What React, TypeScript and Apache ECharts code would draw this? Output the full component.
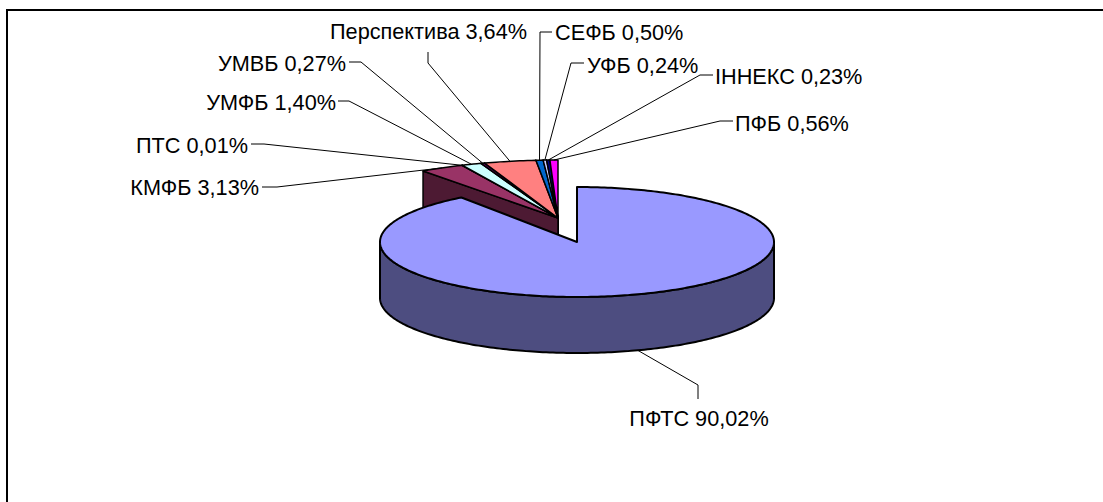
import React, { useEffect, useRef } from 'react';
import * as echarts from 'echarts';

const exchanges = ['ПФТС', 'КМФБ', 'ПТС', 'УМФБ', 'УМВБ', 'Перспектива', 'СЕФБ', 'УФБ', 'ІННЕКС', 'ПФБ'];
const shares = [90.02, 3.13, 0.01, 1.40, 0.27, 3.64, 0.50, 0.24, 0.23, 0.56];
const topColors = ['#9999FF', '#993366', '#FFFFCC', '#CCFFFF', '#660066', '#FF8080', '#0066CC', '#CCCCFF', '#000080', '#FF00FF'];
const sideColors = ['#4D4D80', '#4D1A33', '#808066', '#668080', '#330033', '#804040', '#003366', '#666680', '#000040', '#800080'];

// label layout: text anchor and leader-line elbow points (the end on the slice is computed)
const labelLayout: { x: number; y: number; align: string; line: number[][] }[] = [
  { x: 699, y: 418, align: 'center', line: [[698, 399], [698, 385]] },
  { x: 259, y: 187, align: 'right', line: [[262, 187], [277, 187]] },
  { x: 248, y: 145, align: 'right', line: [[251, 144], [264, 144]] },
  { x: 336, y: 102, align: 'right', line: [[338, 101], [349, 101]] },
  { x: 346, y: 63, align: 'right', line: [[349, 62], [361, 62]] },
  { x: 527, y: 31, align: 'right', line: [[428, 52], [428, 63]] },
  { x: 555, y: 32, align: 'left', line: [[552, 32], [540, 32]] },
  { x: 587, y: 65, align: 'left', line: [[584, 63], [571, 63]] },
  { x: 715, y: 76, align: 'left', line: [[713, 75], [700, 75]] },
  { x: 735, y: 123, align: 'left', line: [[733, 121], [720, 121]] },
];

type Geom = { cx: number; cy: number; rx: number; ry: number; depth: number };
const explodedGeom: Geom = { cx: 577, cy: 242, rx: 197, ry: 55, depth: 56 };
const restGeom: Geom = { cx: 558, cy: 218, rx: 230, ry: 58, depth: 56 };

const FONT = '21.7px "Liberation Sans", Arial, sans-serif';

function rim(g: Geom, deg: number, down = 0): number[] {
  const r = (deg * Math.PI) / 180;
  return [g.cx + g.rx * Math.sin(r), g.cy - g.ry * Math.cos(r) + down];
}

const fmt = (v: number) => v.toFixed(2).replace('.', ',') + '%';

export default function App() {
  const ref = useRef<HTMLDivElement>(null);
  useEffect(() => {
    if (!ref.current) return;
    const chart = echarts.init(ref.current, undefined, { renderer: 'svg' });
    const total = shares.reduce((a, b) => a + b, 0);
    const cumBefore: number[] = [];
    shares.reduce((acc, v, i) => {
      cumBefore[i] = acc;
      return acc + v;
    }, 0);

    const renderItem = (params: any, api: any) => {
      const i = params.dataIndex;
      const v = api.value(0);
      const start = (cumBefore[i] / total) * 360;
      const end = start + (v / total) * 360;
      const g = i === 0 ? explodedGeom : restGeom;
      const children: any[] = [];
      const stroke = '#000';
      const lw = i === 0 ? 2 : 1.5;

      // top face
      const topPts: number[][] = [[g.cx, g.cy]];
      for (let a = start; a < end; a += 1) topPts.push(rim(g, a));
      topPts.push(rim(g, end));

      if (i === 0) {
        // outer side wall (front half)
        const s = Math.max(start, 90);
        const e = Math.min(end, 270);
        if (e > s) {
          const up: number[][] = [];
          const dn: number[][] = [];
          for (let a = s; a < e; a += 1) {
            up.push(rim(g, a));
            dn.push(rim(g, a, g.depth));
          }
          up.push(rim(g, e));
          dn.push(rim(g, e, g.depth));
          children.push({
            type: 'polygon',
            z2: 50,
            shape: { points: up.concat(dn.reverse()) },
            style: { fill: sideColors[i], stroke, lineWidth: lw, lineJoin: 'round' },
          });
        }
        children.push({
          type: 'polygon',
          z2: 51,
          shape: { points: topPts },
          style: { fill: topColors[i], stroke, lineWidth: lw, lineJoin: 'round' },
        });
      } else {
        // radial cut face at the start edge
        const r0 = rim(g, start);
        children.push({
          type: 'polygon',
          z2: 20 - i,
          shape: { points: [[g.cx, g.cy], r0, [r0[0], r0[1] + g.depth], [g.cx, g.cy + g.depth]] },
          style: { fill: sideColors[i], stroke, lineWidth: lw, lineJoin: 'round' },
        });
        children.push({
          type: 'polygon',
          z2: 30 + i,
          shape: { points: topPts },
          style: { fill: topColors[i], stroke, lineWidth: lw, lineJoin: 'round' },
        });
      }

      // leader line and label
      const mid = (start + end) / 2;
      const anchor = i === 0 ? rim(g, mid, g.depth) : rim(g, mid);
      const lay = labelLayout[i];
      children.push({
        type: 'polyline',
        z2: 60,
        shape: { points: [...lay.line, anchor] },
        style: { fill: 'none', stroke: '#000', lineWidth: 1 },
      });
      children.push({
        type: 'text',
        z2: 61,
        style: {
          text: exchanges[i] + ' ' + fmt(v),
          x: lay.x,
          y: lay.y,
          align: lay.align,
          verticalAlign: 'middle',
          font: FONT,
          fill: '#000',
        },
      });
      return { type: 'group', children };
    };

    chart.setOption({
      animation: false,
      backgroundColor: '#fff',
      graphic: [
        {
          type: 'rect',
          z: 100,
          shape: { x: 7, y: 10, width: 1200, height: 600 },
          style: { fill: 'none', stroke: '#000', lineWidth: 2 },
        },
      ],
      series: [
        {
          type: 'custom',
          coordinateSystem: 'none',
          silent: true,
          renderItem,
          data: shares.map((v) => [v]),
        },
      ],
    });
    return () => chart.dispose();
  }, []);
  return <div ref={ref} style={{ position: 'absolute', left: 0, top: 0, width: 1103, height: 502 }} />;
}
